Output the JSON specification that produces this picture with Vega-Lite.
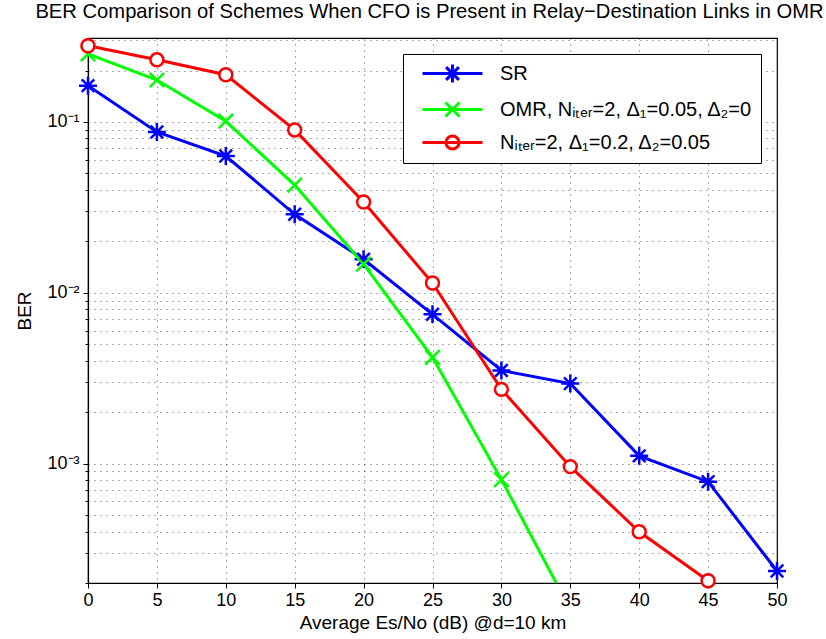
{
  "$schema": "https://vega.github.io/schema/vega-lite/v6.json",
  "width": 689,
  "height": 545,
  "autosize": {"type": "none"},
  "padding": {"left": 88, "top": 38, "right": 49, "bottom": 56},
  "background": "white",
  "title": {
    "text": "BER Comparison of Schemes When CFO is Present in Relay−Destination Links in OMR",
    "font": "Liberation Sans",
    "fontSize": 20.2,
    "fontWeight": "normal",
    "color": "black",
    "offset": 12,
    "dx": -3,
    "anchor": "middle"
  },
  "config": {
    "font": "Liberation Sans",
    "view": {"stroke": "black", "strokeWidth": 1.2},
    "axis": {
      "labelFont": "Liberation Sans",
      "labelFontSize": 18,
      "labelColor": "black",
      "titleFont": "Liberation Sans",
      "titleFontSize": 19,
      "titleFontWeight": "normal",
      "titleColor": "black",
      "domainColor": "black",
      "domainWidth": 1.2,
      "tickColor": "black",
      "grid": true,
      "gridColor": "#222",
      "gridDash": [1, 5],
      "gridWidth": 1,
      "gridOpacity": 0.75
    }
  },
  "data": {
    "values": [
      {"x": 0, "y": 0.163, "s": "SR"},
      {"x": 5, "y": 0.0873, "s": "SR"},
      {"x": 10, "y": 0.0632, "s": "SR"},
      {"x": 15, "y": 0.0288, "s": "SR"},
      {"x": 20, "y": 0.0157, "s": "SR"},
      {"x": 25, "y": 0.00748, "s": "SR"},
      {"x": 30, "y": 0.00351, "s": "SR"},
      {"x": 35, "y": 0.00294, "s": "SR"},
      {"x": 40, "y": 0.00111, "s": "SR"},
      {"x": 45, "y": 0.000784, "s": "SR"},
      {"x": 50, "y": 0.000235, "s": "SR"},
      {"x": 0, "y": 0.25, "s": "OMR"},
      {"x": 5, "y": 0.176, "s": "OMR"},
      {"x": 10, "y": 0.101, "s": "OMR"},
      {"x": 15, "y": 0.0427, "s": "OMR"},
      {"x": 20, "y": 0.0147, "s": "OMR"},
      {"x": 25, "y": 0.00419, "s": "OMR"},
      {"x": 30, "y": 0.000806, "s": "OMR"},
      {"x": 35, "y": 0.00014, "s": "OMR"},
      {"x": 0, "y": 0.279, "s": "N"},
      {"x": 5, "y": 0.231, "s": "N"},
      {"x": 10, "y": 0.189, "s": "N"},
      {"x": 15, "y": 0.0898, "s": "N"},
      {"x": 20, "y": 0.034, "s": "N"},
      {"x": 25, "y": 0.0114, "s": "N"},
      {"x": 30, "y": 0.00272, "s": "N"},
      {"x": 35, "y": 0.00096, "s": "N"},
      {"x": 40, "y": 0.000399, "s": "N"},
      {"x": 45, "y": 0.000206, "s": "N"}
    ]
  },
  "encoding": {
    "x": {
      "field": "x",
      "type": "quantitative",
      "scale": {"domain": [0, 50], "nice": false},
      "axis": {
        "title": "Average Es/No (dB) @d=10 km",
        "values": [0, 5, 10, 15, 20, 25, 30, 35, 40, 45, 50],
        "tickSize": 5,
        "labelPadding": 3,
        "titlePadding": 4,
        "labelFlush": false
      }
    },
    "y": {
      "field": "y",
      "type": "quantitative",
      "scale": {"type": "log", "domain": [0.0002, 0.31], "nice": false},
      "axis": {
        "title": "BER",
        "values": [0.0002, 0.0003, 0.0004, 0.0005, 0.0006, 0.0007, 0.0008, 0.0009, 0.001, 0.002, 0.003, 0.004, 0.005, 0.006, 0.007, 0.008, 0.009, 0.01, 0.02, 0.03, 0.04, 0.05, 0.06, 0.07, 0.08, 0.09, 0.1, 0.2, 0.3],
        "labelExpr": "datum.value == 0.1 ? '10⁻¹' : datum.value == 0.01 ? '10⁻²' : datum.value == 0.001 ? '10⁻³' : ''",
        "tickSize": {"condition": {"test": "datum.value == 0.1 || datum.value == 0.01 || datum.value == 0.001", "value": 5}, "value": 3},
        "labelPadding": 4,
        "titlePadding": 12,
        "labelFlush": false
      }
    },
    "color": {
      "field": "s",
      "type": "nominal",
      "scale": {"domain": ["SR", "OMR", "N"], "range": ["#0000ff", "#00ff00", "#ff0000"]},
      "legend": {
        "title": null,
        "orient": "top-right",
        "offset": 16,
        "fillColor": "white",
        "strokeColor": "black",
        "padding": 8,
        "labelFont": "Liberation Sans",
        "labelFontSize": 20,
        "labelColor": "black",
        "labelOffset": 66,
        "labelLimit": 400,
        "rowPadding": 7,
        "symbolSize": 400,
        "symbolStrokeWidth": 3,
        "labelExpr": "datum.value == 'SR' ? 'SR' : datum.value == 'OMR' ? 'OMR, Nᵢₜₑᵣ=2, Δ₁=0.05, Δ₂=0' : 'Nᵢₜₑᵣ=2, Δ₁=0.2, Δ₂=0.05'",
        "encode": {
          "symbols": {
            "update": {
              "shape": {"signal": "datum.value == 'SR' ? 'M0,0H6M3,-0.9V0.9M2.1,0H3.9M2.36,-0.64L3.64,0.64M2.36,0.64L3.64,-0.64' : datum.value == 'OMR' ? 'M0,0H6M2.3,-0.7L3.7,0.7M2.3,0.7L3.7,-0.7' : 'M0,0H6M3.65,0A0.65,0.65 0 1,1 2.35,0A0.65,0.65 0 1,1 3.65,0Z'"},
              "fill": {"value": "transparent"},
              "strokeWidth": {"value": 3}
            }
          }
        }
      }
    }
  },
  "layer": [
    {
      "mark": {"type": "line", "strokeWidth": 3, "clip": true}
    },
    {
      "transform": [{"filter": "datum.s == 'SR'"}],
      "mark": {"type": "point", "filled": false, "fill": "white", "strokeWidth": 2.5, "size": 324, "opacity": 1, "clip": false,
        "shape": "M0,-1V1M-1,0H1M-0.7,-0.7L0.7,0.7M-0.7,0.7L0.7,-0.7"}
    },
    {
      "transform": [{"filter": "datum.s == 'OMR' && datum.y >= 0.0002"}],
      "mark": {"type": "point", "filled": false, "fill": "white", "strokeWidth": 2.5, "size": 324, "opacity": 1, "clip": false,
        "shape": "M-0.8,-0.8L0.8,0.8M-0.8,0.8L0.8,-0.8"}
    },
    {
      "transform": [{"filter": "datum.s == 'N'"}],
      "mark": {"type": "point", "filled": false, "fill": "white", "strokeWidth": 2.5, "size": 324, "opacity": 1, "clip": false,
        "shape": "M0.72,0A0.72,0.72 0 1,1 -0.72,0A0.72,0.72 0 1,1 0.72,0Z"}
    }
  ]
}
